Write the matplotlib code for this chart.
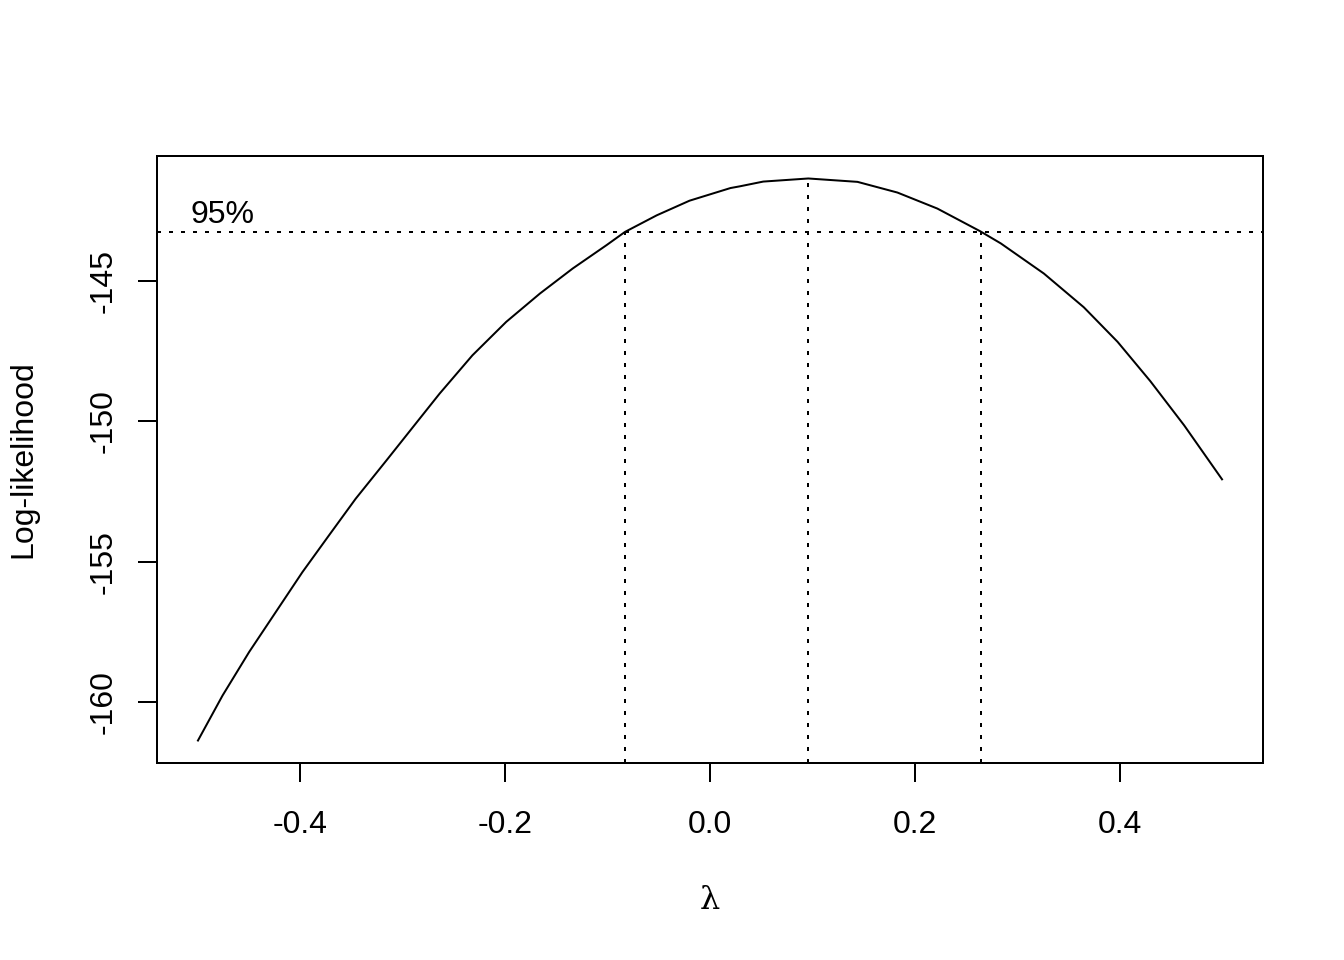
import matplotlib
matplotlib.use("Agg")
import matplotlib.pyplot as plt

plt.rcParams['font.family'] = ['Liberation Sans', 'DejaVu Sans']
plt.rcParams['axes.unicode_minus'] = False

# profile log-likelihood
lam = [-0.500, -0.476, -0.450, -0.424, -0.398, -0.372, -0.346, -0.316, -0.285,
       -0.264, -0.232, -0.199, -0.166, -0.134, -0.101, -0.083, -0.052, -0.020,
       0.020, 0.029, 0.052, 0.096, 0.144, 0.183, 0.222, 0.264, 0.284, 0.326,
       0.365, 0.398, 0.430, 0.463, 0.500]
loglik = [-161.36, -159.76, -158.21, -156.79, -155.37, -154.06, -152.76, -151.40, -149.98,
          -149.02, -147.66, -146.47, -145.46, -144.57, -143.74, -143.27, -142.68, -142.16,
          -141.71, -141.65, -141.48, -141.37, -141.49, -141.87, -142.44, -143.25, -143.68, -144.75,
          -145.95, -147.18, -148.58, -150.15, -152.07]

lim95 = -143.29
lam_hat = 0.096
ci = [-0.083, 0.265]

xticks = [-0.4, -0.2, 0.0, 0.2, 0.4]
xticklabels = ["-0.4", "-0.2", "0.0", "0.2", "0.4"]
yticks = [-160, -155, -150, -145]

fig = plt.figure(figsize=(7, 5), dpi=192)
ax = fig.add_axes([157/1344, 1 - 763/960, (1263-157)/1344, (763-156)/960])

ax.plot(lam, loglik, color='black', lw=0.75)

# R-style 4% padding
xr = max(lam) - min(lam)
ax.set_xlim(min(lam) - 0.04*xr, max(lam) + 0.04*xr)
ylo, yhi = min(loglik), max(loglik)
yr = yhi - ylo
y0 = ylo - 0.04*yr
ax.set_ylim(y0, yhi + 0.04*yr)

dot = (0, (2, 4))
ax.axhline(lim95, color='black', lw=0.75, linestyle=dot)
ax.plot([lam_hat, lam_hat], [y0, max(loglik)], color='black', lw=0.75, linestyle=dot)
for c in ci:
    ax.plot([c, c], [y0, lim95], color='black', lw=0.75, linestyle=dot)

ax.text(-0.507, lim95 + 0.32, "95%", fontsize=12, ha='left', va='baseline')

ax.set_xticks(xticks)
ax.set_xticklabels(xticklabels)
ax.set_yticks(yticks)
ax.set_yticklabels([str(v) for v in yticks], rotation=90, va='center')
ax.tick_params(axis='both', direction='out', length=7.2, width=0.75, labelsize=12, color='black')
ax.tick_params(axis='x', pad=10.4)
ax.tick_params(axis='y', pad=7.2)
for s in ax.spines.values():
    s.set_linewidth(0.75)

ax.set_xlabel("λ", fontsize=12, family=['DejaVu Serif'], va='center')
ax.xaxis.set_label_coords(0.5, -0.2273)
ax.set_ylabel("Log-likelihood", fontsize=12, va='center')
ax.yaxis.set_label_coords(-0.1212, 0.5)

fig.savefig("out.png", dpi=192)
